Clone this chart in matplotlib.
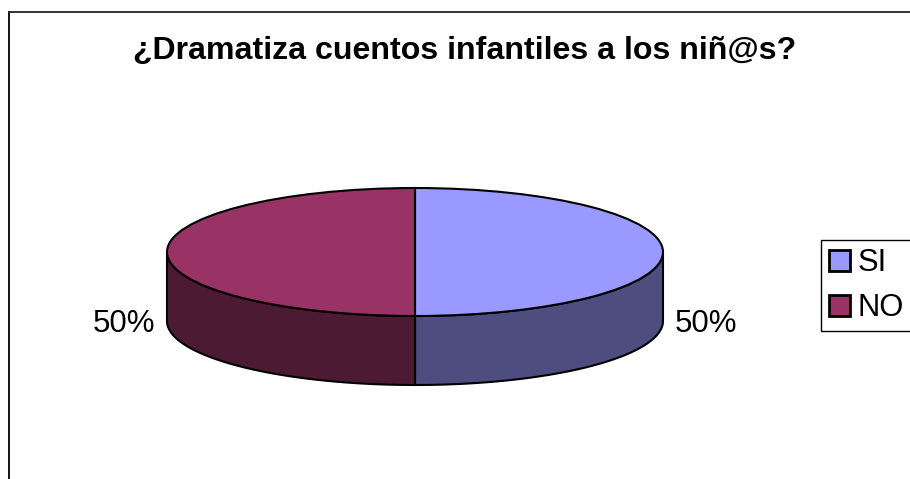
import numpy as np
from matplotlib import pyplot as plt
from matplotlib.lines import Line2D

plt.rcParams['font.family'] = ['Liberation Sans', 'DejaVu Sans']

title = '¿Dramatiza cuentos infantiles a los niñ@s?'
categories = ['SI', 'NO']
values = [50, 50]
top_colors = ['#9999FF', '#993366']
side_colors = ['#4D4D80', '#4D1A33']

W, H = 910, 479
DEPTH = 69 / 64  # wall height in units of the ellipse's vertical radius
LW = 1.5

fig = plt.figure(figsize=(W / 100, H / 100), dpi=100)

# only the top and left sides of the chart frame are inside the picture
fig.add_artist(Line2D([9 / W, 9 / W], [0, 1 - 12 / H], color='black', lw=1.3))
fig.add_artist(Line2D([9 / W, 1], [1 - 12 / H, 1 - 12 / H], color='#222222', lw=1.3))

ax = fig.add_axes([167 / W, 1 - 385 / H, 496 / W, 197 / H])

# side walls, front half of the ellipse only
shares = np.array(values) / sum(values)
edges = 90 - 360 * np.concatenate([[0], np.cumsum(shares)])
for start, stop, color in zip(edges[:-1], edges[1:], side_colors):
    a = np.radians(np.linspace(start, stop, 200))
    a = a[np.sin(a) <= 0]
    x, y = np.cos(a), np.sin(a)
    ax.fill(np.r_[x, x[::-1]], np.r_[y, y[::-1] - DEPTH],
            facecolor=color, edgecolor='black', lw=LW, clip_on=False)

wedges, _ = ax.pie(values, colors=top_colors, startangle=90, counterclock=False,
                   wedgeprops={'edgecolor': 'black', 'linewidth': LW, 'clip_on': False})
ax.set_aspect('auto')
ax.set_xlim(-1, 1)
ax.set_ylim(-1 - DEPTH, 1)

# percent labels
for mid_x, v in zip([706, 124], values):
    fig.text(mid_x / W, 1 - 332 / H, f'{v}%', fontsize=22.5, ha='center', va='baseline')

fig.text(465 / W, 1 - 59 / H, title, fontsize=23.1, fontweight='bold', ha='center', va='baseline')

leg = fig.legend(wedges, categories, loc='lower left',
                 bbox_to_anchor=(821 / W, 1 - 331 / H), bbox_transform=fig.transFigure,
                 fontsize=22.3, fancybox=False, framealpha=1, edgecolor='black',
                 handlelength=0.68, handleheight=0.68, handletextpad=0.25,
                 borderpad=0.25, borderaxespad=0, labelspacing=0.49)
leg.get_frame().set_linewidth(1.0)
for h in leg.legend_handles:
    h.set_linewidth(2.0)

fig.savefig('out.png', dpi=100)
plt.close()
